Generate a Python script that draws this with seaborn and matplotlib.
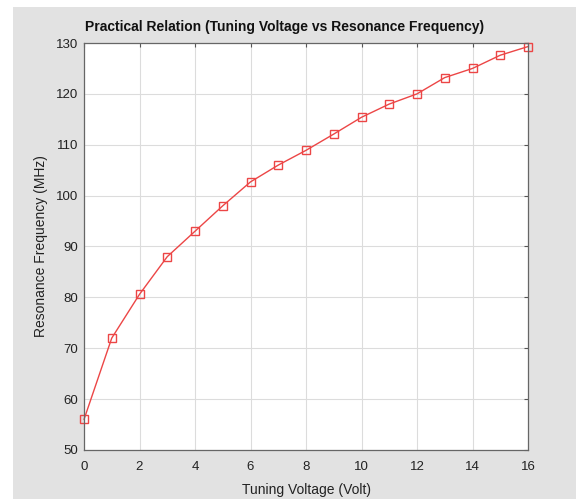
import numpy as np
import pandas as pd
import matplotlib
matplotlib.use("Agg")
import matplotlib.pyplot as plt
import seaborn as sns
from matplotlib.patches import Rectangle

# Tuning voltage (Volt) and measured resonance frequency (MHz)
voltage = [0, 1, 2, 3, 4, 5, 6, 7, 8, 9, 10, 11, 12, 13, 14, 15, 16]
frequency = [56.0, 72.0, 80.6, 88.0, 93.0, 98.0, 102.7, 106.0, 108.9,
             112.1, 115.4, 118.0, 120.0, 123.2, 125.0, 127.6, 129.3]

x_ticks = [0, 2, 4, 6, 8, 10, 12, 14, 16]
y_ticks = [50, 60, 70, 80, 90, 100, 110, 120, 130]

data = pd.DataFrame({"Voltage": voltage, "Frequency": frequency})

sns.set_style("whitegrid")
plt.rcParams["font.family"] = ["Liberation Sans", "DejaVu Sans"]

fig = plt.figure(figsize=(5.76, 4.99), dpi=100)
fig.patch.set_facecolor("white")
# grey panel behind the axes (like the MATLAB figure window)
fig.patches.append(Rectangle((13 / 576, 0), 1, 1 - 7 / 499, transform=fig.transFigure,
                             facecolor="#e2e2e2", edgecolor="none", zorder=-10))

ax = fig.add_axes([84 / 576, 1 - 450 / 499, (528 - 84) / 576, (450 - 43) / 499])
ax.set_facecolor("white")

sns.lineplot(data=data, x="Voltage", y="Frequency", ax=ax, color="#ec4646",
             linewidth=1.0, marker="s", markersize=6, markerfacecolor="none",
             markeredgecolor="#ec4646", markeredgewidth=1.0, clip_on=False)

ax.set_xlim(0, 16)
ax.set_ylim(50, 130)
ax.set_xticks(x_ticks)
ax.set_yticks(y_ticks)
ax.grid(True, color="#dcdcdc", linewidth=0.8)
ax.tick_params(direction="in", length=3, color="#555555", labelsize=9.5,
               labelcolor="#222222", top=True, right=True, pad=4)
ax.tick_params(axis="x", pad=8)
for side in ax.spines.values():
    side.set_visible(True)
    side.set_color("#666666")
    side.set_linewidth(0.9)

ax.set_title("Practical Relation (Tuning Voltage vs Resonance Frequency)",
             fontsize=10, fontweight="bold", color="#111111", pad=9, x=0.452)
ax.set_xlabel("Tuning Voltage (Volt)", fontsize=10, color="#222222", labelpad=7)
ax.set_ylabel("Resonance Frequency (MHz)", fontsize=10, color="#222222", labelpad=6)

fig.savefig("out.png", dpi=100)
